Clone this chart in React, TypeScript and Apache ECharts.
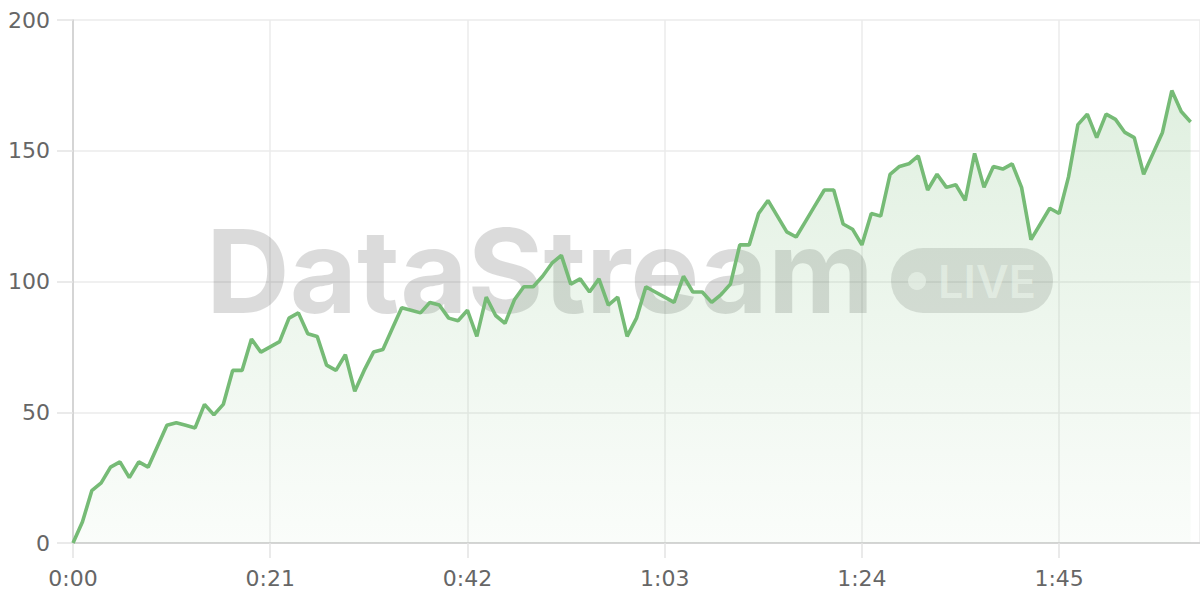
import React, { useEffect, useRef } from "react";
import * as echarts from "echarts";

// values per second, starting at 0:00
const values: number[] = [
  0, 8, 20, 23, 29, 31, 25, 31, 29, 37,
  45, 46, 45, 44, 53, 49, 53, 66, 66, 78,
  73, 75, 77, 86, 88, 80, 79, 68, 66, 72,
  58, 66, 73, 74, 82, 90, 89, 88, 92, 91,
  86, 85, 89, 79, 94, 87, 84, 93, 98, 98,
  102, 107, 110, 99, 101, 96, 101, 91, 94, 79,
  86, 98, 96, 94, 92, 102, 96, 96, 92, 95,
  99, 114, 114, 126, 131, 125, 119, 117, 123, 129,
  135, 135, 122, 120, 114, 126, 125, 141, 144, 145,
  148, 135, 141, 136, 137, 131, 149, 136, 144, 143,
  145, 136, 116, 122, 128, 126, 140, 160, 164, 155,
  164, 162, 157, 155, 141, 149, 157, 173, 165, 161,
];

const yTicks = [0, 50, 100, 150, 200];
const xTickStep = 21;
const xMax = 120;
const watermarkTitle = "DataStream";
const watermarkBadge = "LIVE";

const fmtTime = (v: number) =>
  `${Math.floor(v / 60)}:${String(v % 60).padStart(2, "0")}`;

export default function App() {
  const ref = useRef<HTMLDivElement>(null);
  useEffect(() => {
    if (!ref.current) return;
    const chart = echarts.init(ref.current, undefined, { renderer: "svg" });
    const axisFont = "'DejaVu Sans', Verdana, sans-serif";
    const markFont = "Inter, 'Noto Sans', sans-serif";
    chart.setOption({
      animation: false,
      backgroundColor: "#ffffff",
      grid: { left: 73, right: 0, top: 20, bottom: 57, containLabel: false },
      xAxis: {
        type: "value",
        min: 0,
        max: xMax,
        interval: xTickStep,
        axisLine: { show: true, lineStyle: { color: "#cccccc", width: 1.5 } },
        axisTick: { show: true, length: 15, lineStyle: { color: "#e3e3e3", width: 1.5 } },
        splitLine: { show: true, lineStyle: { color: "#ebebeb", width: 1.5 } },
        axisLabel: {
          color: "#666666",
          fontSize: 22,
          fontFamily: axisFont,
          margin: 24,
          showMaxLabel: false,
          formatter: (v: number) => (v % xTickStep === 0 ? fmtTime(v) : ""),
        },
      },
      yAxis: {
        type: "value",
        min: yTicks[0],
        max: yTicks[yTicks.length - 1],
        interval: yTicks[1] - yTicks[0],
        axisLine: { show: true, lineStyle: { color: "#cccccc", width: 1.5 } },
        axisTick: { show: true, length: 16, lineStyle: { color: "#e3e3e3", width: 1.5 } },
        splitLine: { show: true, lineStyle: { color: "#ebebeb", width: 1.5 } },
        axisLabel: {
          color: "#666666",
          fontSize: 22,
          fontFamily: axisFont,
          margin: 23,
        },
      },
      graphic: [
        {
          type: "text",
          z: 1,
          x: 206,
          y: 271,
          style: {
            text: watermarkTitle,
            fontSize: 116,
            fontWeight: "bold",
            fontFamily: markFont,
            fill: "rgba(0,0,0,0.14)",
            textVerticalAlign: "middle",
            textAlign: "left",
          },
        },
        {
          type: "rect",
          z: 1,
          shape: { x: 891, y: 248, width: 162, height: 65, r: 32 },
          style: { fill: "rgba(0,0,0,0.12)" },
        },
        {
          type: "circle",
          z: 1,
          shape: { cx: 917, cy: 281, r: 9 },
          style: { fill: "rgba(255,255,255,0.6)" },
        },
        {
          type: "text",
          z: 1,
          x: 938,
          y: 281,
          style: {
            text: watermarkBadge,
            fontSize: 45,
            fontWeight: 600,
            fontFamily: markFont,
            fill: "rgba(255,255,255,0.6)",
            textVerticalAlign: "middle",
            textAlign: "left",
          },
        },
      ],
      series: [
        {
          type: "line",
          data: values.map((v, i) => [i, v]),
          showSymbol: false,
          symbol: "none",
          z: 2,
          lineStyle: { color: "#76bb76", width: 3.6 },
          areaStyle: {
            color: new echarts.graphic.LinearGradient(0, 0, 0, 1, [
              { offset: 0, color: "rgba(118,187,118,0.32)" },
              { offset: 1, color: "rgba(118,187,118,0.05)" },
            ]),
          },
        },
      ],
    });
    return () => chart.dispose();
  }, []);
  return (
    <div
      ref={ref}
      style={{ position: "absolute", left: 0, top: 0, width: 1200, height: 600 }}
    />
  );
}
